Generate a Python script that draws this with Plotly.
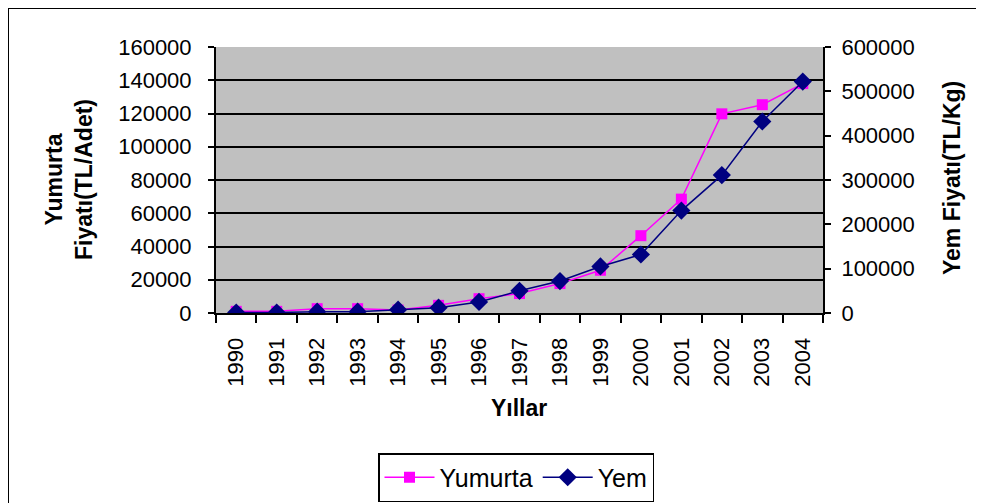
import plotly.graph_objects as go

years = ["1990", "1991", "1992", "1993", "1994", "1995", "1996", "1997",
         "1998", "1999", "2000", "2001", "2002", "2003", "2004"]
yumurta = [1000, 1000, 2600, 2600, 1800, 4600, 8600, 11700, 17700, 25700,
           46500, 68500, 119800, 125300, 138000]
yem = [1000, 1000, 3000, 3000, 7500, 12000, 25000, 50000, 72000, 105000,
       132000, 231000, 311000, 432000, 522000]

left_ticks = [0, 20000, 40000, 60000, 80000, 100000, 120000, 140000, 160000]
right_ticks = [0, 100000, 200000, 300000, 400000, 500000, 600000]

FONT = "Liberation Sans, Arial, sans-serif"

fig = go.Figure()
fig.add_trace(go.Scatter(
    x=years, y=yumurta, name="Yumurta", mode="lines+markers",
    line=dict(color="#FF00FF", width=1.5),
    marker=dict(symbol="square", size=11, color="#FF00FF"),
    yaxis="y"))
fig.add_trace(go.Scatter(
    x=years, y=yem, name="Yem", mode="lines+markers",
    line=dict(color="#000080", width=1.5),
    marker=dict(symbol="diamond", size=14, color="#000080"),
    yaxis="y2"))

# page body has an 8px margin; positions below are in screen pixels
OFF = 8
FW, FH = 984 - OFF, 503 - OFF
PL, PR, PT, PB = 216, 823, 47, 313   # plot area on screen
L, R, T, B = PL - OFF, FW - (PR - OFF), PT - OFF, FH - (PB - OFF)
W, H = PR - PL, PB - PT

def px_x(p):
    return (p - PL) / W

def px_y(p):
    return (PB - p) / H

fig.update_layout(
    width=FW, height=FH,
    margin=dict(l=L, r=R, t=T, b=B),
    paper_bgcolor="white", plot_bgcolor="#C0C0C0",
    font=dict(family=FONT, size=22, color="black"),
    showlegend=True,
    legend=dict(orientation="h",
                xref="container", x=(516 - OFF) / FW, xanchor="center",
                yref="container", y=1 - (453 - OFF) / FH, yanchor="top",
                bordercolor="black", borderwidth=1.5, bgcolor="white",
                font=dict(size=25), itemwidth=50,
                tracegroupgap=0),
    xaxis=dict(type="category", categoryorder="array", categoryarray=years,
               range=[-0.5, len(years) - 0.5],
               tickangle=-90, ticks="outside", ticklen=8, tickwidth=1.5,
               tickcolor="black", tickson="boundaries", ticklabelstandoff=14,
               showline=True, linecolor="black", linewidth=2,
               showgrid=False, zeroline=False, automargin=False,
               tickfont=dict(size=22)),
    yaxis=dict(range=[0, 160000], tickvals=left_ticks,
               ticktext=[str(v) for v in left_ticks],
               ticks="outside", ticklen=6, tickwidth=1.5, tickcolor="black",
               ticklabelstandoff=12,
               showline=True, linecolor="black", linewidth=2,
               showgrid=True, gridcolor="black", gridwidth=1.5,
               zeroline=False, automargin=False, tickfont=dict(size=22)),
    yaxis2=dict(range=[0, 600000], tickvals=right_ticks,
                ticktext=[str(v) for v in right_ticks],
                overlaying="y", side="right",
                ticks="outside", ticklen=6, tickwidth=1.5, tickcolor="black",
                ticklabelstandoff=6,
                showline=True, linecolor="black", linewidth=2,
                showgrid=False, zeroline=False, automargin=False,
                tickfont=dict(size=22)),
)

fig.add_annotation(text="<b>Yumurta<br>Fiyatı(TL/Adet)</b>", textangle=-90,
                   xref="paper", yref="paper", x=px_x(69), y=px_y(180),
                   xanchor="center", yanchor="middle", showarrow=False,
                   font=dict(size=23))
fig.add_annotation(text="<b>Yem Fiyatı(TL/Kg)</b>", textangle=-90,
                   xref="paper", yref="paper", x=px_x(952), y=px_y(178),
                   xanchor="center", yanchor="middle", showarrow=False,
                   font=dict(size=23))
fig.add_annotation(text="<b>Yıllar</b>",
                   xref="paper", yref="paper", x=px_x(519), y=px_y(408),
                   xanchor="center", yanchor="middle", showarrow=False,
                   font=dict(size=23))

fig.add_shape(type="rect", xref="paper", yref="paper",
              x0=px_x(7.5), x1=px_x(1000), y0=px_y(530), y1=px_y(7.5),
              line=dict(color="black", width=3), fillcolor="rgba(0,0,0,0)",
              layer="below")

fig.write_html("out.html")
